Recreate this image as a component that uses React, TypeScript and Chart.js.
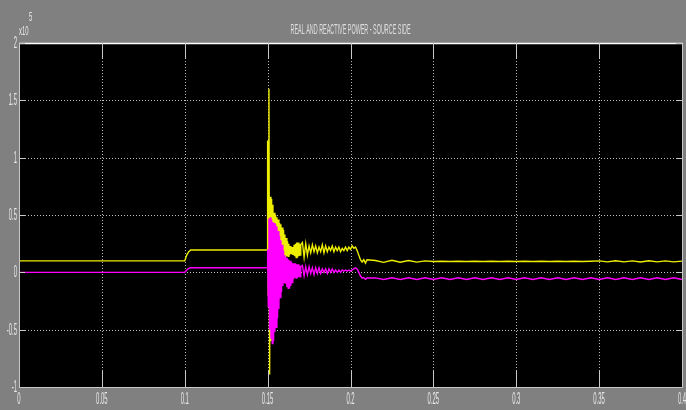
import React, { useEffect, useRef } from "react";
import { Chart, registerables } from "chart.js";

Chart.register(...registerables);

const TITLE = "REAL AND REACTIVE POWER - SOURCE SIDE";
const Y_EXPONENT = "5";

const xTickValues = [0, 0.05, 0.1, 0.15, 0.2, 0.25, 0.3, 0.35, 0.4];
const xTickLabels = ["0", "0.05", "0.1", "0.15", "0.2", "0.25", "0.3", "0.35", "0.4"];
const yTickValues = [-1, -0.5, 0, 0.5, 1, 1.5, 2];
const yTickLabels = ["-1", "-0.5", "0", "0.5", "1", "1.5", "2"];

// values in units of 1e5
const timePre = [0, 0.1, 0.1012, 0.1024, 0.1036, 0.1499];
const realPre = [0.1, 0.1, 0.15, 0.18, 0.195, 0.195];
const reactivePre = [0, 0, 0.02, 0.035, 0.04, 0.04];

const timeFault = [
  0.15, 0.1504, 0.1508, 0.1512, 0.1516, 0.152, 0.1524, 0.1528, 0.1532, 0.1536,
  0.154, 0.1544, 0.1548, 0.1552, 0.1556, 0.156, 0.1564, 0.1568, 0.1572, 0.1576,
  0.158, 0.1584, 0.1588, 0.1592, 0.1596, 0.16, 0.1604, 0.1608, 0.1612, 0.1616,
  0.162, 0.1624, 0.1628, 0.1632, 0.1636, 0.164, 0.1644, 0.1648, 0.1652, 0.1656,
  0.166, 0.1664, 0.1668, 0.1672, 0.1676, 0.168, 0.1684, 0.1688, 0.1692, 0.1696,
  0.17,
];
const realFault = [
  1.15, -0.2, 1.6, -0.89, 0.66, -0.6, 0.64, -0.45, 0.59, -0.3,
  0.52, -0.15, 0.5, -0.05, 0.48, 0.0, 0.46, 0.05, 0.43, 0.08,
  0.42, 0.1, 0.39, 0.12, 0.37, 0.12, 0.33, 0.13, 0.3, 0.14,
  0.27, 0.14, 0.25, 0.15, 0.23, 0.16, 0.22, 0.16, 0.22, 0.15,
  0.24, 0.14, 0.25, 0.13, 0.26, 0.13, 0.26, 0.14, 0.25, 0.15,
  0.24,
];
const reactiveFault = [
  0.2, -0.3, 0.47, -0.5, 0.48, -0.58, 0.46, -0.62, 0.44, -0.6,
  0.43, -0.52, 0.42, -0.48, 0.4, -0.4, 0.36, -0.32, 0.32, -0.22,
  0.28, -0.17, 0.24, -0.12, 0.19, -0.09, 0.15, -0.1, 0.13, -0.13,
  0.12, -0.14, 0.11, -0.14, 0.1, -0.12, 0.09, -0.09, 0.08, -0.06,
  0.08, -0.05, 0.08, -0.05, 0.07, -0.05, 0.07, -0.04, 0.06, -0.04,
  0.05,
];

const timeSettle = [
  0.171, 0.172, 0.173, 0.174, 0.175, 0.176, 0.177, 0.178, 0.179, 0.18,
  0.181, 0.182, 0.183, 0.184, 0.185, 0.186, 0.187, 0.188, 0.189, 0.19,
  0.191, 0.192, 0.193, 0.194, 0.195, 0.196, 0.197, 0.198, 0.199, 0.2,
  0.201, 0.202, 0.203, 0.204, 0.205, 0.206, 0.207, 0.208, 0.209, 0.21,
];
const realSettle = [
  0.26, 0.13, 0.25, 0.15, 0.23, 0.17, 0.24, 0.18, 0.23, 0.17,
  0.22, 0.18, 0.24, 0.17, 0.23, 0.18, 0.22, 0.19, 0.23, 0.18,
  0.22, 0.19, 0.22, 0.18, 0.21, 0.19, 0.22, 0.19, 0.22, 0.2,
  0.23, 0.21, 0.22, 0.19, 0.15, 0.11, 0.09, 0.11, 0.08, 0.11,
];
const reactiveSettle = [
  0.06, -0.03, 0.05, -0.02, 0.05, -0.01, 0.04, -0.02, 0.04, -0.01,
  0.04, -0.01, 0.03, 0.0, 0.03, -0.01, 0.03, 0.0, 0.03, 0.0,
  0.02, 0.0, 0.02, 0.0, 0.02, 0.01, 0.02, 0.01, 0.02, 0.01,
  0.02, 0.03, 0.04, 0.03, 0.0, -0.03, -0.05, -0.045, -0.06, -0.05,
];

const timeSteady = [
  0.215, 0.22, 0.225, 0.23, 0.235, 0.24, 0.245, 0.25, 0.255, 0.26,
  0.265, 0.27, 0.275, 0.28, 0.285, 0.29, 0.295, 0.3, 0.305, 0.31,
  0.315, 0.32, 0.325, 0.33, 0.335, 0.34, 0.345, 0.35, 0.355, 0.36,
  0.365, 0.37, 0.375, 0.38, 0.385, 0.39, 0.395, 0.4,
];
const realSteady = [
  0.103, 0.087, 0.105, 0.088, 0.103, 0.089, 0.1, 0.094, 0.097, 0.095,
  0.097, 0.095, 0.097, 0.095, 0.097, 0.095, 0.097, 0.095, 0.097, 0.095,
  0.097, 0.095, 0.097, 0.095, 0.097, 0.095, 0.097, 0.1, 0.091, 0.101,
  0.091, 0.1, 0.09, 0.101, 0.091, 0.1, 0.091, 0.098,
];
const reactiveSteady = [
  -0.048, -0.062, -0.048, -0.062, -0.048, -0.062, -0.048, -0.062, -0.048, -0.062,
  -0.048, -0.062, -0.048, -0.062, -0.048, -0.062, -0.048, -0.062, -0.048, -0.062,
  -0.048, -0.062, -0.048, -0.062, -0.048, -0.062, -0.048, -0.062, -0.048, -0.062,
  -0.048, -0.062, -0.048, -0.062, -0.048, -0.062, -0.048, -0.062,
];

const time = [...timePre, ...timeFault, ...timeSettle, ...timeSteady];
const realPower = [...realPre, ...realFault, ...realSettle, ...realSteady];
const reactivePower = [...reactivePre, ...reactiveFault, ...reactiveSettle, ...reactiveSteady];

const LABEL_FONT = '16px "Liberation Sans", "DejaVu Sans", sans-serif';
const LABEL_COLOR = "#e8e8e8";
const LABEL_SX = 0.37;

function narrowText(
  ctx: CanvasRenderingContext2D,
  text: string,
  x: number,
  y: number,
  align: CanvasTextAlign,
  baseline: CanvasTextBaseline,
  sx: number
) {
  ctx.save();
  ctx.translate(x, y);
  ctx.scale(sx, 1);
  ctx.textAlign = align;
  ctx.textBaseline = baseline;
  ctx.fillText(text, 0, 0);
  ctx.restore();
}

const scopePlugin = {
  id: "scope",
  beforeDraw(chart: any) {
    const { ctx, chartArea: a } = chart;
    const xs = chart.scales.x;
    const ys = chart.scales.y;
    ctx.save();
    ctx.fillStyle = "#808080";
    ctx.fillRect(0, 0, chart.width, chart.height);
    ctx.fillStyle = "#000000";
    ctx.fillRect(a.left, a.top, a.right - a.left, a.bottom - a.top);
    ctx.strokeStyle = "#bdbdbd";
    ctx.lineWidth = 1;
    ctx.setLineDash([1, 2]);
    xTickValues.forEach((v) => {
      const px = Math.round(xs.getPixelForValue(v)) + 0.5;
      if (px <= a.left + 1 || px >= a.right - 1) return;
      ctx.beginPath();
      ctx.moveTo(px, a.top);
      ctx.lineTo(px, a.bottom);
      ctx.stroke();
    });
    yTickValues.forEach((v) => {
      const py = Math.round(ys.getPixelForValue(v)) + 0.5;
      if (py <= a.top + 1 || py >= a.bottom - 1) return;
      ctx.beginPath();
      ctx.moveTo(a.left, py);
      ctx.lineTo(a.right, py);
      ctx.stroke();
    });
    ctx.restore();
  },
  afterDatasetsDraw(chart: any) {
    const { ctx, chartArea: a } = chart;
    const xs = chart.scales.x;
    const ys = chart.scales.y;
    ctx.save();
    ctx.setLineDash([]);
    // frame
    ctx.lineWidth = 1;
    ctx.strokeStyle = "#c8c8c8";
    ctx.beginPath();
    ctx.moveTo(a.left + 0.5, a.top);
    ctx.lineTo(a.left + 0.5, a.bottom + 0.5);
    ctx.lineTo(a.right + 0.5, a.bottom + 0.5);
    ctx.lineTo(a.right + 0.5, a.top);
    ctx.stroke();
    ctx.strokeStyle = "#ffffff";
    ctx.lineWidth = 1.5;
    ctx.beginPath();
    ctx.moveTo(a.left, a.top + 0.5);
    ctx.lineTo(a.right + 1, a.top + 0.5);
    ctx.stroke();
    // inward ticks
    ctx.lineWidth = 1;
    ctx.strokeStyle = "#c8c8c8";
    xTickValues.forEach((v) => {
      const px = Math.round(xs.getPixelForValue(v)) + 0.5;
      ctx.beginPath();
      ctx.moveTo(px, a.top);
      ctx.lineTo(px, a.top + 16);
      ctx.moveTo(px, a.bottom);
      ctx.lineTo(px, a.bottom - 16);
      ctx.stroke();
    });
    yTickValues.forEach((v) => {
      const py = Math.round(ys.getPixelForValue(v)) + 0.5;
      ctx.beginPath();
      ctx.moveTo(a.left, py);
      ctx.lineTo(a.left + 6, py);
      ctx.moveTo(a.right, py);
      ctx.lineTo(a.right - 6, py);
      ctx.stroke();
    });
    // labels
    ctx.fillStyle = LABEL_COLOR;
    ctx.font = LABEL_FONT;
    xTickValues.forEach((v, i) => {
      const px = xs.getPixelForValue(v);
      narrowText(ctx, xTickLabels[i], px, a.bottom + 17, "center", "alphabetic", LABEL_SX);
    });
    yTickValues.forEach((v, i) => {
      const py = ys.getPixelForValue(v);
      narrowText(ctx, yTickLabels[i], a.left - 2, py + 5, "right", "alphabetic", LABEL_SX);
    });
    // exponent
    ctx.font = '13px "Liberation Sans", "DejaVu Sans", sans-serif';
    narrowText(ctx, "x10", a.left, a.top - 8, "left", "alphabetic", 0.45);
    narrowText(ctx, Y_EXPONENT, a.left + 10, a.top - 22, "left", "alphabetic", 0.45);
    // title
    ctx.font = '14px "Liberation Sans", "DejaVu Sans", sans-serif';
    ctx.fillStyle = "#dedede";
    const w = ctx.measureText(TITLE).width;
    const sx = 120 / w;
    narrowText(ctx, TITLE, (a.left + a.right) / 2, a.top - 9, "center", "alphabetic", sx);
    ctx.restore();
  },
};

export default function App() {
  const canvasRef = useRef<HTMLCanvasElement | null>(null);

  useEffect(() => {
    if (!canvasRef.current) return;
    const chart = new Chart(canvasRef.current, {
      type: "line",
      data: {
        datasets: [
          {
            label: "Real power",
            data: time.map((t, i) => ({ x: t, y: realPower[i] })),
            borderColor: "#eeee00",
            borderWidth: 1.4,
            pointRadius: 0,
            tension: 0,
            order: 1,
          },
          {
            label: "Reactive power",
            data: time.map((t, i) => ({ x: t, y: reactivePower[i] })),
            borderColor: "#ff00ff",
            borderWidth: 1.4,
            pointRadius: 0,
            tension: 0,
            order: 0,
          },
        ],
      },
      options: {
        animation: false,
        responsive: false,
        devicePixelRatio: 1,
        layout: { padding: { top: 43, right: 4, left: 0, bottom: 0 }, autoPadding: false },
        plugins: {
          legend: { display: false },
          tooltip: { enabled: false },
          title: { display: false },
        },
        scales: {
          x: {
            type: "linear",
            min: 0,
            max: 0.4,
            grid: { display: false },
            border: { display: false },
            ticks: { display: false },
            afterFit: (s: any) => {
              s.height = 23;
            },
          },
          y: {
            type: "linear",
            min: -1,
            max: 2,
            grid: { display: false },
            border: { display: false },
            ticks: { display: false },
            afterFit: (s: any) => {
              s.width = 19;
            },
          },
        },
      },
      plugins: [scopePlugin],
    });
    return () => chart.destroy();
  }, []);

  return (
    <div
      style={{
        position: "fixed",
        left: 0,
        top: 0,
        width: 686,
        height: 410,
        background: "#808080",
      }}
    >
      <canvas ref={canvasRef} width={686} height={410} style={{ display: "block" }} />
    </div>
  );
}
